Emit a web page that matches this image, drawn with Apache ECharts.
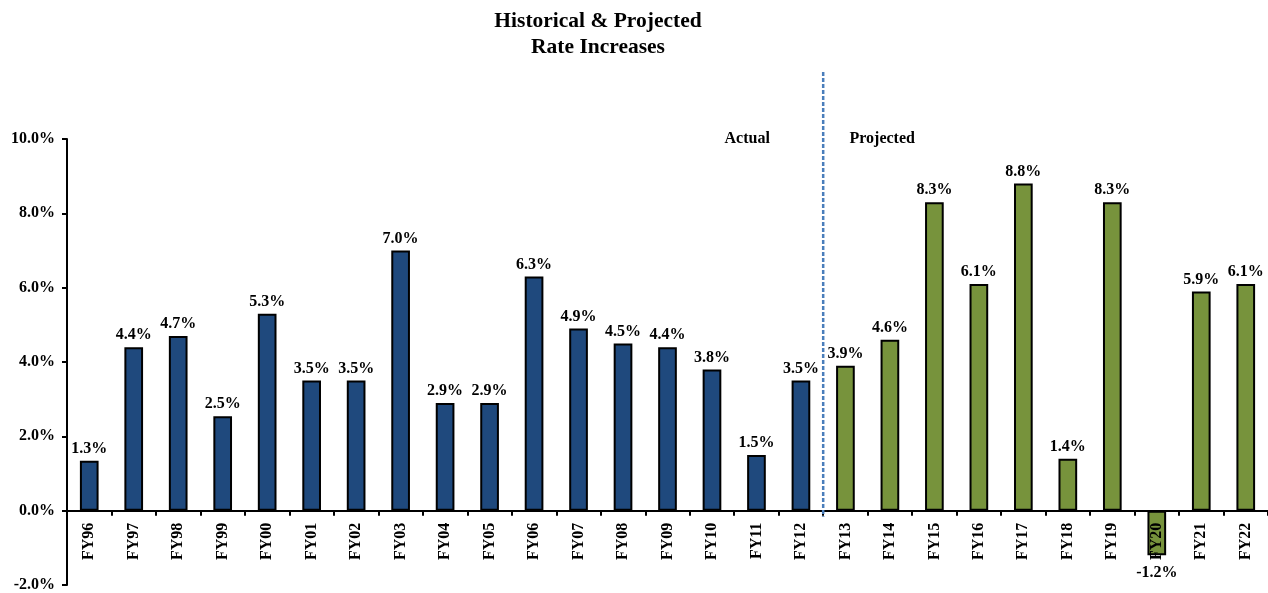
<!DOCTYPE html>
<html><head><meta charset="utf-8">
<script src="https://cdn.jsdelivr.net/npm/echarts@6/dist/echarts.min.js"></script>
<style>html,body{margin:0;padding:0;background:#fff}#c{width:1268px;height:593px}</style>
</head><body><div id="c"></div>
<script>
const categories = ['FY96','FY97','FY98','FY99','FY00','FY01','FY02','FY03','FY04','FY05','FY06','FY07','FY08','FY09','FY10','FY11','FY12','FY13','FY14','FY15','FY16','FY17','FY18','FY19','FY20','FY21','FY22'];
const values = [1.34,4.4,4.7,2.54,5.3,3.5,3.5,7.0,2.9,2.9,6.3,4.9,4.5,4.4,3.8,1.5,3.5,3.9,4.6,8.3,6.1,8.8,1.4,8.3,-1.2,5.9,6.1];
const actualCount = 17;
const yTicks = {min:-2, max:10, interval:2};
const FONT = '"Liberation Serif","Times New Roman",serif';
const BLUE = '#1f497d', GREEN = '#77933c';

const chart = echarts.init(document.getElementById('c'));
const data = values.map((v,i)=>({
  value:v,
  itemStyle:{color: i<actualCount?BLUE:GREEN},
  label: v<0 ? {position:'bottom',distance:10} : {position:'top'}
}));
const labelStyle = {rotate:90,margin:12,fontFamily:FONT,fontWeight:'bold',fontSize:16,color:'#000',interval:0};
chart.setOption({
  animation:false,
  title:{text:'Historical & Projected\nRate Increases', left:593, textAlign:'center', top:3,
    textStyle:{fontFamily:FONT,fontWeight:'bold',fontSize:21.5,color:'#000',lineHeight:26}},
  grid:{left:67,right:0,top:139,bottom:8,containLabel:false,outerBoundsMode:'none'},
  xAxis:[{type:'category',data:categories,
    axisLine:{onZero:true,lineStyle:{color:'#000',width:2}},
    axisTick:{show:true,length:5,lineStyle:{color:'#000',width:2}},
    axisLabel:{show:false}},
    {type:'category',data:categories,position:'bottom',offset:0,z:10,
    axisLine:{show:false},axisTick:{show:false},
    axisLabel:labelStyle}],
  yAxis:{type:'value',min:yTicks.min,max:yTicks.max,interval:yTicks.interval,
    axisLine:{show:true,lineStyle:{color:'#000',width:2}},
    axisTick:{show:true,length:5,lineStyle:{color:'#000',width:2}},
    splitLine:{show:false},
    axisLabel:{margin:12,fontFamily:FONT,fontWeight:'bold',fontSize:16,color:'#000',formatter:v=>v.toFixed(1)+'%'}},
  series:[{type:'bar',data:data,barWidth:'42%',
    itemStyle:{borderColor:'#000',borderWidth:2},
    label:{show:true,fontFamily:FONT,fontWeight:'bold',fontSize:16,color:'#000',distance:4,
      formatter:p=>p.value.toFixed(1)+'%'}}]
});
const xa = chart.convertToPixel({xAxisIndex:0}, categories[actualCount-1]);
const xb = chart.convertToPixel({xAxisIndex:0}, categories[actualCount]);
const xm = (xa+xb)/2;
const yTop = chart.convertToPixel({yAxisIndex:0}, yTicks.max);
const y0 = chart.convertToPixel({yAxisIndex:0}, 0);
const yBottom = chart.convertToPixel({yAxisIndex:0}, yTicks.min);
chart.setOption({
  xAxis:[{},{offset:-(yBottom-y0)}],
  graphic:[
  {type:'line',shape:{x1:xm,y1:yTop-67,x2:xm,y2:y0+6},style:{stroke:'#4a7ebb',lineWidth:2.5,lineDash:[4,2]},z:10},
  {type:'text',x:xm-76,y:yTop,style:{text:'Actual',font:'bold 16px '+FONT,fill:'#000',textAlign:'center',textVerticalAlign:'middle'}},
  {type:'text',x:xm+59,y:yTop,style:{text:'Projected',font:'bold 16px '+FONT,fill:'#000',textAlign:'center',textVerticalAlign:'middle'}}
]});
</script></body></html>
